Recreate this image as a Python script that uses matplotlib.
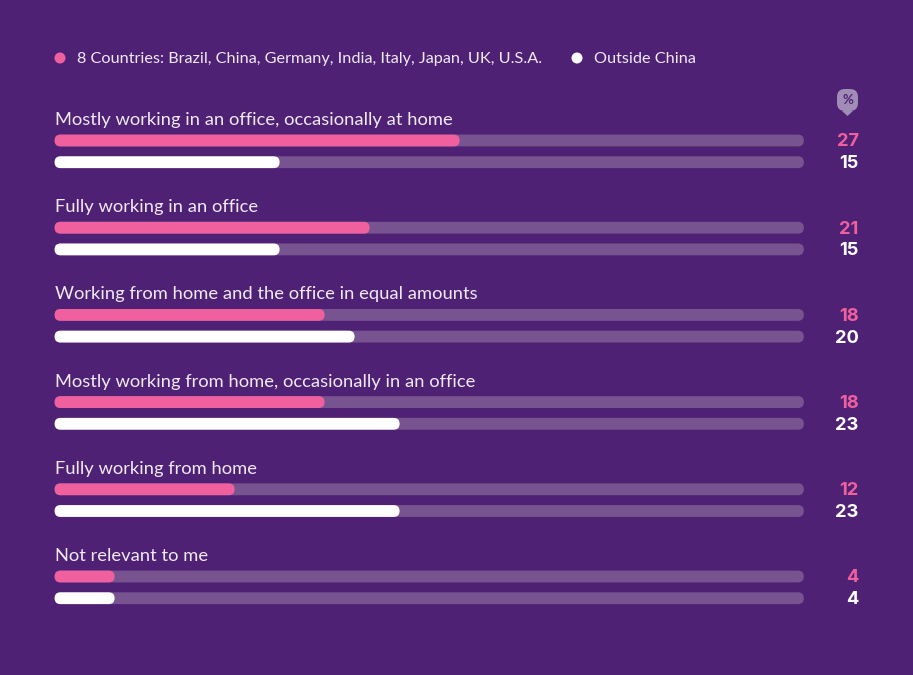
import matplotlib
matplotlib.use("Agg")
from matplotlib import pyplot as plt
from matplotlib.patches import Circle, FancyBboxPatch, Polygon

categories = [
    "Mostly working in an office, occasionally at home",
    "Fully working in an office",
    "Working from home and the office in equal amounts",
    "Mostly working from home, occasionally in an office",
    "Fully working from home",
    "Not relevant to me",
]
countries8 = [27, 21, 18, 18, 12, 4]
outside_china = [15, 15, 20, 23, 23, 4]
axis_max = 49.95
legend_labels = ["8 Countries: Brazil, China, Germany, India, Italy, Japan, UK, U.S.A.", "Outside China"]

BG = "#4f2174"
TRACK = "#77548f"
PINK = "#f0609f"
WHITE = "#ffffff"
TEXT = "#efe9f3"
W, H = 913, 675
PX_PER_UNIT = 15.0
X0 = 54.6
BAR_H = 11.8

plt.rcParams["font.family"] = ["Lato", "DejaVu Sans"]

fig = plt.figure(figsize=(W / 100, H / 100), dpi=100, facecolor=BG)

# overlay in plain pixels for the legend and the icon
px = fig.add_axes([0, 0, 1, 1])
px.set_xlim(0, W)
px.set_ylim(H, 0)
px.axis("off")

# x in percent, y in pixels
ax = fig.add_axes([0, 0, 1, 1], facecolor="none")
ax.set_xlim(-X0 / PX_PER_UNIT, (W - X0) / PX_PER_UNIT)
ax.set_ylim(H, 0)
ax.axis("off")


def pill(y, value, color):
    r = BAR_H / 2 / PX_PER_UNIT
    ax.add_patch(FancyBboxPatch(
        (0, y - BAR_H / 2), value, BAR_H,
        boxstyle=f"round,pad=0,rounding_size={r}",
        mutation_aspect=PX_PER_UNIT, fc=color, ec="none",
    ))


val_x = (858.5 - X0) / PX_PER_UNIT
for i, cat in enumerate(categories):
    y0 = 140.5 + 87.2 * i
    y1 = y0 + 21.7
    ax.text(0, y0 - 12.5, cat, color=TEXT, fontsize=13.27, va="bottom", ha="left")
    pill(y0, axis_max, TRACK)
    pill(y1, axis_max, TRACK)
    pill(y0, countries8[i], PINK)
    pill(y1, outside_china[i], WHITE)
    ax.text(val_x, y0 + 1.5, str(countries8[i]), color=PINK, fontsize=13.2,
            family=["Inter", "DejaVu Sans"], fontweight="bold", ha="right", va="center")
    ax.text(val_x, y1 + 1.5, str(outside_china[i]), color=WHITE, fontsize=13.2,
            family=["Inter", "DejaVu Sans"], fontweight="bold", ha="right", va="center")

# legend
px.add_patch(Circle((60, 58), 5.5, fc=PINK, ec="none"))
px.text(77, 59, legend_labels[0], color=TEXT, fontsize=11.68, va="center", ha="left")
px.add_patch(Circle((577, 58), 5.5, fc=WHITE, ec="none"))
px.text(594, 59, legend_labels[1], color=TEXT, fontsize=11.68, va="center", ha="left")

# percent pin above the value column
ICON = "#a08cb6"
px.add_patch(FancyBboxPatch((837, 89), 21, 22, boxstyle="round,pad=0,rounding_size=8", fc=ICON, ec="none"))
px.add_patch(Polygon([(842, 111), (853, 111), (847.5, 116)], closed=True, fc=ICON, ec="none"))
px.text(847.5, 99.5, "%", color=BG, fontsize=9.5, fontweight="bold", ha="center", va="center")

fig.savefig("out.png", dpi=100, facecolor=BG)
